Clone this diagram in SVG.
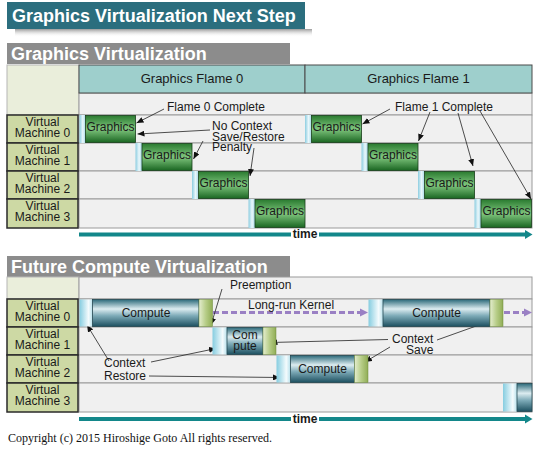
<svg xmlns="http://www.w3.org/2000/svg" width="555" height="450" viewBox="0 0 555 450">
<defs>
<linearGradient id="gG" x1="0" y1="0" x2="0" y2="1"><stop offset="0" stop-color="#2a7b30"/><stop offset="0.5" stop-color="#80c67e"/><stop offset="1" stop-color="#1a6622"/></linearGradient>
<linearGradient id="gS" x1="0" y1="0" x2="1" y2="0"><stop offset="0" stop-color="#8ccde0"/><stop offset="0.55" stop-color="#eaf7fb"/><stop offset="1" stop-color="#a6d9e8"/></linearGradient>
<linearGradient id="gB" x1="0" y1="0" x2="0" y2="1"><stop offset="0" stop-color="#2c6a7a"/><stop offset="0.35" stop-color="#dcecf0"/><stop offset="0.6" stop-color="#7eabb8"/><stop offset="1" stop-color="#1d5060"/></linearGradient>
<linearGradient id="gCB" x1="0" y1="0" x2="1" y2="0"><stop offset="0" stop-color="#86cde0"/><stop offset="0.7" stop-color="#f4fbfd"/><stop offset="1" stop-color="#b8e1ec"/></linearGradient>
<linearGradient id="gCG" x1="0" y1="0" x2="1" y2="0"><stop offset="0" stop-color="#e4edcf"/><stop offset="0.5" stop-color="#b7cd88"/><stop offset="1" stop-color="#90ad55"/></linearGradient>
<linearGradient id="gSh" x1="0" y1="0" x2="0" y2="1"><stop offset="0" stop-color="#9a9a9a"/><stop offset="1" stop-color="#ffffff" stop-opacity="0"/></linearGradient>
<marker id="ah" markerWidth="7" markerHeight="6" refX="7" refY="3" orient="auto" markerUnits="userSpaceOnUse"><path d="M0,0 L7,3 L0,6 z" fill="#111"/></marker>
</defs>
<style>
.t{font-family:"Liberation Sans",Arial,sans-serif;fill:#1a1a1a}
.hd{font-family:"Liberation Sans",Arial,sans-serif;font-weight:bold;font-size:18px;fill:#ffffff}
.c{text-anchor:middle}
.s12{font-size:12px}
.vm{fill:#cdd9a4;stroke:#2a2a2a;stroke-width:1.5}
.row{fill:#f0f0f0;stroke:#9a9a9a;stroke-width:1}
.corner{fill:#eaeedb;stroke:#b5b5b5;stroke-width:1}
.head{fill:#9ecfcc;stroke:#4a4a4a;stroke-width:1}
.gfx{fill:url(#gG);stroke:#173f19;stroke-width:0.8}
.strip{fill:url(#gS)}
.body{fill:url(#gB);stroke:#244650;stroke-width:0.8}
.capb{fill:url(#gCB)}
.capg{fill:url(#gCG);stroke:#6c8a3a;stroke-width:0.5}
.ann{stroke:#222;stroke-width:0.8;fill:none;marker-end:url(#ah)}
.time{stroke:#13878a;stroke-width:4;fill:none}
.tarr{fill:#13878a}
.dash{stroke:#9a80c4;stroke-width:3;stroke-dasharray:6 3;fill:none}
.darr{fill:#9a80c4}
</style>

<g id="title">
<rect x="15" y="29" width="297" height="8" fill="url(#gSh)"/>
<rect x="7" y="2" width="298" height="27" fill="#2b6e7e"/>
<text class="hd" x="12" y="22">Graphics Virtualization Next Step</text>
</g>

<g id="section-graphics">
<rect x="7" y="43" width="283" height="21" fill="#8c8c8c"/>
<text class="hd" x="11" y="60">Graphics Virtualization</text>
</g>

<g id="graphics-table">
<rect class="corner" x="7" y="65" width="72" height="50"/>
<rect class="row" x="79" y="93" width="453" height="22"/>
<rect class="row" x="79" y="115" width="453" height="28"/>
<rect class="row" x="79" y="143" width="453" height="28"/>
<rect class="row" x="79" y="171" width="453" height="28"/>
<rect class="row" x="79" y="199" width="453" height="29"/>
</g>

<g id="flame0-header">
<rect class="head" x="79" y="65" width="226" height="28"/>
<text class="t c" x="192" y="83" font-size="13">Graphics Flame 0</text>
</g>
<g id="flame1-header">
<rect class="head" x="305" y="65" width="227" height="28"/>
<text class="t c" x="418.5" y="83" font-size="13">Graphics Flame 1</text>
</g>

<g id="g-vm0-label"><rect class="vm" x="7" y="115" width="71" height="28"/><text class="t c s12" x="42.5" y="126">Virtual</text><text class="t c s12" x="42.5" y="137">Machine 0</text></g>
<g id="g-vm1-label"><rect class="vm" x="7" y="143" width="71" height="28"/><text class="t c s12" x="42.5" y="154">Virtual</text><text class="t c s12" x="42.5" y="165">Machine 1</text></g>
<g id="g-vm2-label"><rect class="vm" x="7" y="171" width="71" height="28"/><text class="t c s12" x="42.5" y="182">Virtual</text><text class="t c s12" x="42.5" y="193">Machine 2</text></g>
<g id="g-vm3-label"><rect class="vm" x="7" y="199" width="71" height="29"/><text class="t c s12" x="42.5" y="210">Virtual</text><text class="t c s12" x="42.5" y="221">Machine 3</text></g>

<g id="gfx-f0-vm0"><rect class="strip" x="79.5" y="115" width="6" height="28"/><rect class="gfx" x="85.5" y="115.5" width="50" height="27"/><text class="t c s12" x="110.5" y="131">Graphics</text></g>
<g id="gfx-f0-vm1"><rect class="strip" x="135.5" y="143" width="6.5" height="28"/><rect class="gfx" x="142" y="143.5" width="50" height="27"/><text class="t c s12" x="167" y="159">Graphics</text></g>
<g id="gfx-f0-vm2"><rect class="strip" x="192" y="171" width="6.5" height="28"/><rect class="gfx" x="198.5" y="171.5" width="50" height="27"/><text class="t c s12" x="223.5" y="187">Graphics</text></g>
<g id="gfx-f0-vm3"><rect class="strip" x="248.5" y="199" width="6.5" height="29"/><rect class="gfx" x="255" y="199.5" width="50" height="28"/><text class="t c s12" x="280" y="215">Graphics</text></g>
<g id="gfx-f1-vm0"><rect class="strip" x="305" y="115" width="6.5" height="28"/><rect class="gfx" x="311.5" y="115.5" width="50" height="27"/><text class="t c s12" x="336.5" y="131">Graphics</text></g>
<g id="gfx-f1-vm1"><rect class="strip" x="361.5" y="143" width="6.5" height="28"/><rect class="gfx" x="368" y="143.5" width="50" height="27"/><text class="t c s12" x="393" y="159">Graphics</text></g>
<g id="gfx-f1-vm2"><rect class="strip" x="418" y="171" width="6.5" height="28"/><rect class="gfx" x="424.5" y="171.5" width="50" height="27"/><text class="t c s12" x="449.5" y="187">Graphics</text></g>
<g id="gfx-f1-vm3"><rect class="strip" x="474.5" y="199" width="6.5" height="29"/><rect class="gfx" x="481" y="199.5" width="50.5" height="28"/><text class="t c s12" x="506.5" y="215">Graphics</text></g>

<g id="graphics-labels">
<text class="t s12" x="167" y="111">Flame 0 Complete</text>
<text class="t s12" x="395" y="111">Flame 1 Complete</text>
<text class="t s12" x="212" y="130">No Context</text>
<text class="t s12" x="212" y="140.5">Save/Restore</text>
<text class="t s12" x="212" y="151">Penalty</text>
</g>

<g id="graphics-time">
<line class="time" x1="79" y1="234.5" x2="291" y2="234.5"/>
<line class="time" x1="319" y1="234.5" x2="526" y2="234.5"/>
<polygon class="tarr" points="525,230 532.5,234.5 525,239"/>
<text class="t c" x="305" y="238" font-size="12" font-weight="bold">time</text>
</g>

<g id="section-compute">
<rect x="7" y="256" width="283" height="21" fill="#8c8c8c"/>
<text class="hd" x="11" y="273">Future Compute Virtualization</text>
</g>

<g id="compute-table">
<rect class="corner" x="7" y="277" width="72" height="22"/>
<rect class="row" x="79" y="277" width="453" height="22"/>
<rect class="row" x="79" y="299" width="453" height="28"/>
<rect class="row" x="79" y="327" width="453" height="28"/>
<rect class="row" x="79" y="355" width="453" height="28"/>
<rect class="row" x="79" y="383" width="453" height="29"/>
</g>

<g id="c-vm0-label"><rect class="vm" x="7" y="299" width="71" height="28"/><text class="t c s12" x="42.5" y="310">Virtual</text><text class="t c s12" x="42.5" y="321">Machine 0</text></g>
<g id="c-vm1-label"><rect class="vm" x="7" y="327" width="71" height="28"/><text class="t c s12" x="42.5" y="338">Virtual</text><text class="t c s12" x="42.5" y="349">Machine 1</text></g>
<g id="c-vm2-label"><rect class="vm" x="7" y="355" width="71" height="28"/><text class="t c s12" x="42.5" y="366">Virtual</text><text class="t c s12" x="42.5" y="377">Machine 2</text></g>
<g id="c-vm3-label"><rect class="vm" x="7" y="383" width="71" height="29"/><text class="t c s12" x="42.5" y="394">Virtual</text><text class="t c s12" x="42.5" y="405">Machine 3</text></g>

<g id="connectors">
<line class="dash" x1="213" y1="312.5" x2="361" y2="312.5"/>
<polygon class="darr" points="360,308.5 368,312.5 360,316.5"/>
<line class="dash" x1="504" y1="312.5" x2="525" y2="312.5"/>
<polygon class="darr" points="524,308.5 532,312.5 524,316.5"/>
<path class="ann" d="M164,109 L136.5,123"/>
<path class="ann" d="M210,130 L137.5,134"/>
<path class="ann" d="M203,141 L193.5,159"/>
<path class="ann" d="M254,148 L250,176"/>
<path class="ann" d="M390,109 L362.5,124"/>
<path class="ann" d="M430,112 L418.5,141"/>
<path class="ann" d="M458,113 L473,166"/>
<path class="ann" d="M480,111 L531,199"/>
<path class="ann" d="M222,289 L211,325"/>
<path class="ann" d="M109,361 L87,325"/>
<path class="ann" d="M151,362 L216,348.5"/>
<path class="ann" d="M149,376 L280,377.5"/>
<path class="ann" d="M388,339.5 L270.5,342.5"/>
<path class="ann" d="M437,340 L493,320"/>
<path class="ann" d="M390,347 L365,362"/>
</g>

<g id="compute-vm0-a"><rect class="capb" x="79.5" y="299.5" width="13" height="27"/><rect class="body" x="92.5" y="299.5" width="106.5" height="27"/><rect class="capg" x="199" y="299.5" width="13.5" height="27"/><text class="t c s12" x="146" y="317">Compute</text></g>
<g id="compute-vm1"><rect class="capb" x="212.5" y="327.5" width="14.5" height="27"/><rect class="body" x="227" y="327.5" width="36" height="27"/><rect class="capg" x="263" y="327.5" width="13" height="27"/><text class="t c s12" x="245" y="339">Com</text><text class="t c s12" x="245" y="350">pute</text></g>
<g id="compute-vm2"><rect class="capb" x="276.5" y="355.5" width="14" height="27"/><rect class="body" x="290.5" y="355.5" width="64" height="27"/><rect class="capg" x="354.5" y="355.5" width="13.5" height="27"/><text class="t c s12" x="322.5" y="373">Compute</text></g>
<g id="compute-vm0-b"><rect class="capb" x="368.5" y="299.5" width="14.5" height="27"/><rect class="body" x="383" y="299.5" width="107" height="27"/><rect class="capg" x="490" y="299.5" width="13" height="27"/><text class="t c s12" x="436.5" y="317">Compute</text></g>
<g id="compute-vm3"><rect class="capb" x="503" y="383.5" width="14" height="28"/><rect class="body" x="517" y="383.5" width="15" height="28"/></g>

<g id="compute-labels">
<text class="t s12" x="230" y="289">Preemption</text>
<text class="t s12" x="248" y="308.5">Long-run Kernel</text>
<text class="t s12" x="104" y="366.5">Context</text>
<text class="t s12" x="104" y="380">Restore</text>
<text class="t s12" x="392" y="343">Context</text>
<text class="t s12" x="406" y="354">Save</text>
</g>

<g id="compute-time">
<line class="time" x1="79" y1="419" x2="291" y2="419"/>
<line class="time" x1="319" y1="419" x2="526" y2="419"/>
<polygon class="tarr" points="525,414.5 532.5,419 525,423.5"/>
<text class="t c" x="305" y="422.5" font-size="12" font-weight="bold">time</text>
</g>

<text x="8" y="442" font-family="'Liberation Serif','Times New Roman',serif" font-size="12" fill="#111">Copyright (c) 2015 Hiroshige Goto All rights reserved.</text>
</svg>
